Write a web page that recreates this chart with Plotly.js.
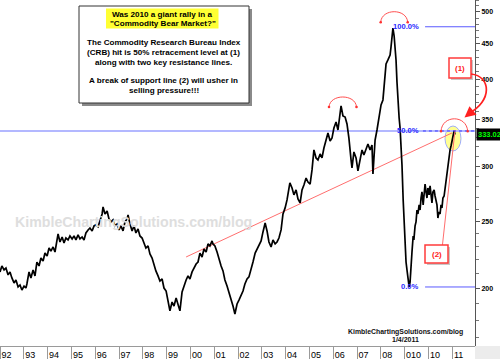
<!DOCTYPE html>
<html><head><meta charset="utf-8">
<script src="https://cdn.plot.ly/plotly-3.0.1.min.js"></script>
<style>html,body{margin:0;padding:0;background:#fff;}#chart{width:500px;height:359px;}</style>
</head><body><div id="chart"></div>
<script>
// ---- data (decimal years, CRB index values) ----
const dates = [
1992.00,1992.08,1992.17,1992.25,1992.34,1992.42,1992.50,1992.59,1992.67,1992.76,1992.84,1992.92,
1993.01,1993.09,1993.13,1993.22,1993.30,1993.39,1993.47,1993.55,1993.64,1993.72,1993.81,1993.89,1993.98,
1994.06,1994.14,1994.23,1994.31,1994.40,1994.44,1994.52,1994.61,1994.69,1994.77,1994.86,1994.94,
1995.03,1995.11,1995.19,1995.28,1995.36,1995.45,1995.53,1995.61,1995.70,1995.78,1995.87,1995.95,
1996.03,1996.12,1996.20,1996.29,1996.33,1996.41,1996.50,1996.58,1996.66,1996.75,1996.83,1996.92,
1997.00,1997.08,1997.17,1997.25,1997.34,1997.38,1997.46,1997.55,1997.63,1997.71,1997.80,1997.88,1997.97,
1998.05,1998.13,1998.22,1998.30,1998.39,1998.47,1998.55,1998.64,1998.72,1998.81,1998.89,1998.98,
1999.06,1999.14,1999.23,1999.31,1999.40,1999.48,1999.56,1999.65,1999.73,1999.82,1999.90,1999.98,
2000.07,2000.15,2000.24,2000.32,2000.40,2000.49,2000.57,2000.66,2000.74,2000.82,2000.91,2000.95,
2001.03,2001.12,2001.20,2001.29,2001.37,2001.45,2001.54,2001.62,2001.71,2001.79,2001.87,2001.96,
2002.04,2002.13,2002.21,2002.29,2002.38,2002.46,2002.55,2002.63,2002.72,2002.80,2002.88,2002.97,
2003.05,2003.14,2003.22,2003.30,2003.39,2003.47,2003.56,2003.64,2003.72,2003.81,2003.89,2003.98,
2004.06,2004.14,2004.18,2004.27,2004.35,2004.44,2004.52,2004.61,2004.69,2004.77,2004.86,2004.94,
2005.03,2005.11,2005.19,2005.28,2005.36,2005.45,2005.53,2005.61,2005.70,2005.78,2005.87,2005.95,
2006.03,2006.12,2006.20,2006.29,2006.33,2006.41,2006.50,2006.58,2006.66,2006.75,2006.79,2006.87,2006.96,
2007.04,2007.13,2007.21,2007.29,2007.38,2007.46,2007.55,2007.63,2007.67,2007.76,2007.84,2007.92,
2008.01,2008.09,2008.18,2008.22,2008.30,2008.39,2008.43,2008.47,2008.51,2008.56,2008.60,2008.64,2008.68,
2008.72,2008.77,2008.81,2008.85,2008.89,2008.94,2008.98,
2009.02,2009.06,2009.10,2009.15,2009.19,2009.23,2009.27,2009.31,2009.36,2009.39,2009.44,2009.48,2009.52,
2009.56,2009.61,2009.65,2009.69,2009.73,2009.78,2009.82,2009.86,2009.90,2009.94,2009.98,
2010.03,2010.07,2010.11,2010.15,2010.19,2010.24,2010.28,2010.32,2010.36,2010.40,2010.44,2010.49,2010.53,
2010.57,2010.61,2010.66,2010.70,2010.74,2010.78,2010.82,2010.87,2010.91,2010.95,2010.99,
2011.04,2011.08,2011.12
];
const crb = [
211.3,215.5,212.7,214.0,209.2,211.3,207.1,203.7,205.7,201.0,202.3,199.0,
201.6,200.3,203.0,211.3,207.1,212.7,208.5,218.3,215.5,221.2,219.1,224.9,222.7,
228.7,226.4,229.5,225.7,234.9,239.6,233.3,237.2,232.6,236.4,234.9,238.0,
235.7,238.0,234.9,238.8,235.7,237.2,234.9,240.4,242.8,244.4,242.0,246.1,
246.9,245.3,250.2,256.0,262.1,256.0,258.5,251.8,249.3,251.0,246.1,247.7,
242.8,246.1,242.0,249.3,251.8,255.1,247.7,242.0,246.1,240.4,243.6,238.0,236.4,
232.6,228.7,230.3,224.2,221.2,216.2,212.0,208.5,205.0,206.4,200.3,198.3,
192.5,185.7,191.2,188.7,193.8,189.3,185.7,197.7,202.3,205.7,208.5,206.4,
211.3,214.0,216.9,218.3,224.9,222.0,228.0,225.7,231.8,230.3,234.1,231.8,
230.3,225.7,219.8,215.5,212.0,205.7,201.6,197.7,193.8,188.7,183.8,190.0,
192.5,195.1,198.3,203.0,206.4,207.8,212.7,218.3,224.9,228.0,231.0,234.1,
241.2,248.5,242.0,233.3,229.5,234.9,231.8,233.3,236.4,242.8,256.0,261.2,
268.2,279.0,283.7,279.0,272.7,277.2,269.0,265.5,277.2,281.8,288.4,284.6,
282.7,296.2,316.5,308.2,306.2,312.3,308.2,318.5,327.1,334.8,326.0,329.2,
340.3,347.2,338.1,358.9,366.1,354.2,353.0,344.9,329.2,306.2,298.2,314.4,308.2,
295.2,306.2,316.5,311.3,318.5,322.8,316.5,321.7,292.3,327.1,338.1,351.8,
367.4,373.5,405.7,420.8,426.4,433.5,445.2,455.6,474.0,461.6,448.1,426.4,396.4,
367.4,351.8,340.3,321.7,301.2,268.2,246.9,
231.0,218.3,212.7,207.1,201.0,204.3,218.3,225.7,238.0,234.9,246.1,249.3,259.4,
256.0,263.8,259.4,269.9,275.4,263.8,277.2,282.7,275.4,269.9,279.0,
272.7,280.9,269.9,265.5,275.4,277.2,271.7,268.2,263.8,252.6,257.7,256.0,263.8,
261.2,269.9,271.7,279.0,284.6,290.4,300.2,306.2,316.5,320.7,327.1,
331.4,337.0,333.02
];
const yearTicks = [1992,1993,1994,1995,1996,1997,1998,1999,2000,2001,2002,2003,2004,2005,2006,2007,2008,2009,2010,2011];
const yearLabels = ['92','93','94','95','96','97','98','99','00','01','02','03','04','05','06','07','08','010','10','11'];
const priceTicks = [200,250,300,350,400,450,500];
const fibLevels = [476.0, 337.0, 201.0];
const fibLabels = ['100.0%','50.0%','0.0%'];
const fibStart = [2009.86, 2009.77, 2009.86];
const resistX = [1999.82, 2010.99];
const resistY = [222.0, 334.8];
const supportX = [2010.59, 2011.12];
const supportY = [231.0, 338.1];
const lastValue = 333.02;
const boxLines = [
  'Was 2010 a giant rally in a',
  '"Commodity Bear Market?"',
  'The Commodity Research Bureau Index',
  '(CRB) hit is 50% retracement level at (1)',
  'along with two key resistance lines.',
  'A break of support line (2) will usher in',
  'selling pressure!!!'
];

// ---- geometry ----
const W = 500, H = 359, ML = 0, MR = 25, MT = 0, MB = 13;
const PW = W - ML - MR, PH = H - MT - MB;
const pxPerYear = 23.8;
const xRange = [1992, 1992 + PW / pxPerYear];
const yRange = [Math.log10(165.3), Math.log10(520.1)];
const fx = x => x / PW;
const fy = y => 1 - y / PH;
const P = (x, y) => fx(x).toFixed(5) + ',' + fy(y).toFixed(5);
const FONT = 'Arial, "Liberation Sans", sans-serif';

const minorY = [];
for (let v = 170; v <= 520; v += 10) if (v % 50 !== 0) minorY.push(v);

// ---- traces ----
const traces = [
  {x: [xRange[0], xRange[1]], y: [fibLevels[1], fibLevels[1]], mode: 'lines',
   line: {color: '#b3b8ff', width: 2.2}, hoverinfo: 'skip'},
  {x: [fibStart[0], xRange[1]], y: [fibLevels[0], fibLevels[0]], mode: 'lines',
   line: {color: '#5a5aff', width: 1}, hoverinfo: 'skip'},
  {x: [fibStart[2], xRange[1]], y: [fibLevels[2], fibLevels[2]], mode: 'lines',
   line: {color: '#5a5aff', width: 1}, hoverinfo: 'skip'},
  {x: resistX, y: resistY, mode: 'lines', line: {color: '#ff6e6e', width: 1}, hoverinfo: 'skip'},
  {x: dates, y: crb, mode: 'lines', line: {color: '#000000', width: 1.7}, name: 'CRB'},
  {x: supportX, y: supportY, mode: 'lines', line: {color: '#ff6e6e', width: 1}, hoverinfo: 'skip'},
  {x: [fibStart[1], xRange[1]], y: [fibLevels[1], fibLevels[1]], mode: 'lines',
   line: {color: '#3a3aff', width: 1, dash: 'dot'}, hoverinfo: 'skip'}
];

// ---- shapes ----
const rect = (x0, y0, x1, y1, st) => Object.assign({type: 'rect', xref: 'paper', yref: 'paper',
  x0: fx(x0), x1: fx(x1), y0: fy(y0), y1: fy(y1)}, st);
const circ = (x0, y0, x1, y1, st) => Object.assign({type: 'circle', xref: 'paper', yref: 'paper',
  x0: fx(x0), x1: fx(x1), y0: fy(y0), y1: fy(y1)}, st);
const arc = (x0, x1, yE, h) => {
  const c = yE - 4 * h / 3;
  return {type: 'path', xref: 'paper', yref: 'paper',
    path: 'M ' + P(x0, yE) + ' C ' + P(x0 + 1, c) + ' ' + P(x1 - 1, c) + ' ' + P(x1, yE),
    line: {color: '#ff5050', width: 1}};
};
const dot = (x, y) => circ(x - 1.3, y - 1.3, x + 1.3, y + 1.3, {fillcolor: '#ff3030', line: {width: 0}});
const noLine = {width: 0};

const shapes = [
  circ(445, 126, 461, 151, {fillcolor: 'rgba(255,255,120,0.8)', line: {color: 'rgba(150,165,255,0.9)', width: 1}, layer: 'below'}),
  rect(475, 346, 500, 359, {fillcolor: '#ececec', line: noLine}),
  // text box
  rect(82, 9, 252, 106, {fillcolor: '#8a8a8a', line: noLine}),
  rect(79, 6, 249, 103, {fillcolor: '#ffffff', line: {color: '#333', width: 1}}),
  rect(106, 8.5, 218.5, 28.5, {fillcolor: '#ffff33', line: noLine}),
  // (1) and (2) boxes
  rect(451, 60, 473, 80, {fillcolor: '#c8c8c8', line: noLine}),
  rect(449, 58, 471, 78, {fillcolor: '#ffffff', line: {color: '#ff3b3b', width: 1.5}}),
  rect(427, 247, 450, 265, {fillcolor: '#c8c8c8', line: noLine}),
  rect(425, 245, 448, 263, {fillcolor: '#ffffff', line: {color: '#ff3b3b', width: 1.5}}),
  // arcs
  arc(329, 356.5, 107, 10), dot(329, 107), dot(356.5, 107),
  arc(380.7, 407.7, 22.2, 10.5), dot(380.7, 22.2), dot(407.7, 22.2),
  arc(441, 467.7, 131.3, 12.5), dot(441, 131.3), dot(467.7, 131.3),
  // curved arrow
  {type: 'path', xref: 'paper', yref: 'paper',
   path: 'M ' + P(471, 74) + ' C ' + P(491, 76) + ' ' + P(493, 101) + ' ' + P(468, 114),
   line: {color: '#ff2020', width: 1.7}}
];

// ---- annotations ----
const ann = [];
const boxY = [14, 23.8, 42.7, 52.5, 62.3, 80.8, 90.6];
boxLines.forEach((t, i) => ann.push({xref: 'paper', yref: 'paper', x: fx(i < 2 ? 162.5 : 163.5), y: fy(boxY[i]),
  text: t, showarrow: false, xanchor: 'center', yanchor: 'middle',
  font: {family: FONT, size: 8.1, color: '#000', weight: 'bold'}}));
ann.push({xref: 'paper', yref: 'paper', x: fx(133.5), y: fy(221.5), text: 'KimbleChartingSolutions.com/blog',
  showarrow: false, xanchor: 'center', yanchor: 'middle',
  font: {family: FONT, size: 14.2, color: '#dedede', weight: 'bold'}});
ann.push({xref: 'paper', yref: 'paper', x: fx(405.5), y: fy(331.7), text: 'KimbleChartingSolutions.com/blog',
  showarrow: false, xanchor: 'center', yanchor: 'middle',
  font: {family: FONT, size: 6.9, color: '#111', weight: 'bold'}});
ann.push({xref: 'paper', yref: 'paper', x: fx(405), y: fy(339.3), text: '1/4/2011',
  showarrow: false, xanchor: 'center', yanchor: 'middle',
  font: {family: FONT, size: 7, color: '#111', weight: 'bold'}});
fibLabels.forEach((t, i) => ann.push({xref: 'paper', yref: 'y', x: fx(420.5), y: Math.log10(fibLevels[i]),
  text: t, showarrow: false, xanchor: 'right', yanchor: 'middle',
  font: {family: FONT, size: 7.6, color: '#2a2aff', weight: 'bold'}}));
ann.push({xref: 'paper', yref: 'paper', x: fx(460), y: fy(68), text: '(1)', showarrow: false,
  xanchor: 'center', yanchor: 'middle', font: {family: FONT, size: 8, color: '#ff2020', weight: 'bold'}});
ann.push({xref: 'paper', yref: 'paper', x: fx(436.5), y: fy(254), text: '(2)', showarrow: false,
  xanchor: 'center', yanchor: 'middle', font: {family: FONT, size: 8, color: '#ff2020', weight: 'bold'}});
ann.push({xref: 'paper', yref: 'y', x: fx(476.5), y: Math.log10(lastValue), text: lastValue.toFixed(2),
  showarrow: false, xanchor: 'left', yanchor: 'middle', bgcolor: '#000', borderpad: 1,
  font: {family: FONT, size: 7.5, color: '#00ff00', weight: 'bold'}});
ann.push({xref: 'paper', yref: 'paper', x: fx(464.5), y: fy(117.5), ax: 6, ay: -5, text: '',
  showarrow: true, arrowhead: 2, arrowsize: 1.3, arrowwidth: 1.7, arrowcolor: '#ff2020'});

const layout = {
  width: W, height: H,
  margin: {l: ML, r: MR, t: MT, b: MB, pad: 0},
  paper_bgcolor: '#ffffff', plot_bgcolor: '#ffffff',
  showlegend: false,
  xaxis: {
    type: 'linear', range: xRange, showgrid: false, zeroline: false,
    showline: true, linecolor: '#9a9a9a', linewidth: 1,
    tickmode: 'array',
    tickvals: yearTicks.map((y, i) => y + (1.5 + yearLabels[i].length * 2.5) / pxPerYear),
    ticktext: yearLabels, ticks: '',
    tickfont: {family: FONT, size: 9, color: '#000'},
    minor: {tickmode: 'array', tickvals: yearTicks, ticks: 'outside', ticklen: 13, tickcolor: '#9a9a9a', tickwidth: 1, showgrid: false},
    fixedrange: true
  },
  yaxis: {
    type: 'log', side: 'right', range: yRange, showgrid: false, zeroline: false,
    showline: true, linecolor: '#555', linewidth: 1,
    tickmode: 'array', tickvals: priceTicks, ticktext: priceTicks.map(String),
    ticks: 'outside', ticklen: 4, tickcolor: '#555', tickwidth: 1,
    tickfont: {family: FONT, size: 7, color: '#000', weight: 'bold'},
    minor: {tickmode: 'array', tickvals: minorY, ticks: 'outside', ticklen: 3, tickcolor: '#777', tickwidth: 1, showgrid: false},
    fixedrange: true
  },
  shapes: shapes,
  annotations: ann
};

Plotly.newPlot('chart', traces, layout, {staticPlot: true, displayModeBar: false});
</script>
</body></html>
